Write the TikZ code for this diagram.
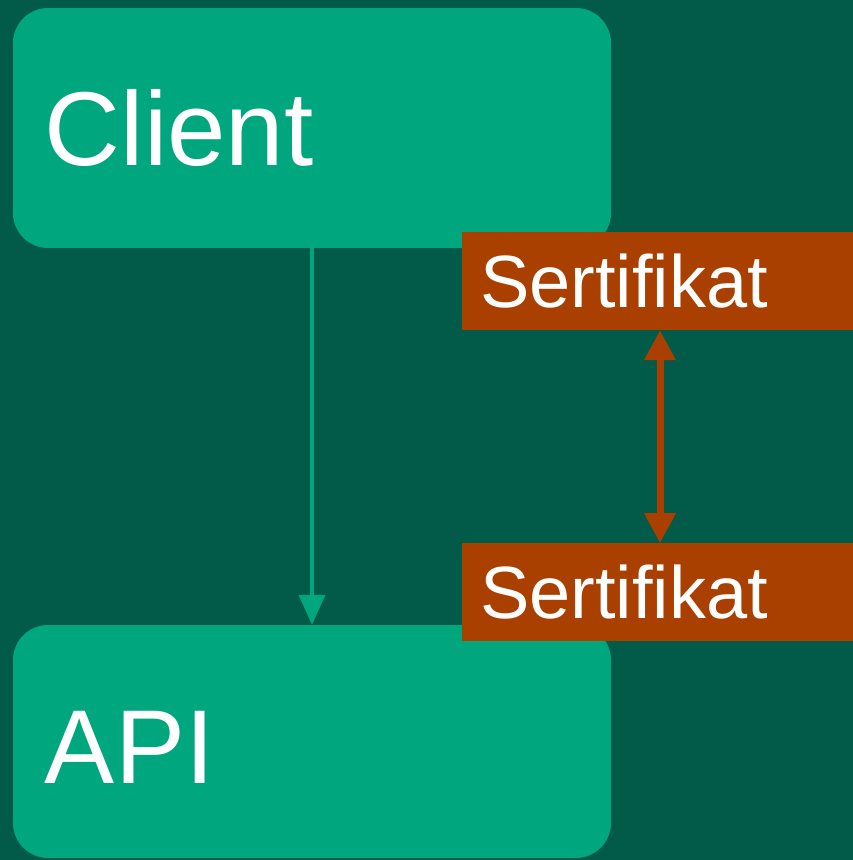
\documentclass[tikz,border=0pt]{standalone}
\usepackage{fontspec}
\setmainfont{Liberation Sans}
\usetikzlibrary{arrows.meta,positioning}
\definecolor{bggreen}{RGB}{2,90,72}
\definecolor{boxgreen}{RGB}{0,166,126}
\definecolor{certorange}{RGB}{170,64,0}
\begin{document}
\begin{tikzpicture}[x=1pt,y=-1pt,
    box/.style={fill=boxgreen, rounded corners=35pt, minimum width=598pt, minimum height=240pt,
      text width=534pt, inner xsep=32pt, align=left, text=white, font=\fontsize{105}{110}\selectfont},
    cert/.style={fill=certorange, minimum width=391pt, minimum height=98pt,
      text width=355pt, inner xsep=18pt, align=left, text=white, font=\fontsize{74}{80}\selectfont}]
          \fill[bggreen] (0,0) rectangle (853,860);
          \useasboundingbox (0,0) rectangle (853,860);
          \node[box] at (312,128) (client) {Client};
          \node[box, minimum height=233pt, text height=84pt] at (312,741.5) (api) {API};
          \node[cert] at (657.5,281) (cert1) {Sertifikat};
          \node[cert, below=213pt of cert1] (cert2) {Sertifikat};
          \draw[-{Triangle[width=26pt,length=30pt]}, line width=4pt, boxgreen] (client) -- (api);
          \draw[{Triangle[width=30pt,length=30pt]}-{Triangle[width=30pt,length=30pt]}, line width=7pt, certorange]
            ([xshift=2.5pt]cert1.south) -- ([xshift=2.5pt]cert2.north);
        \end{tikzpicture}
\end{document}
